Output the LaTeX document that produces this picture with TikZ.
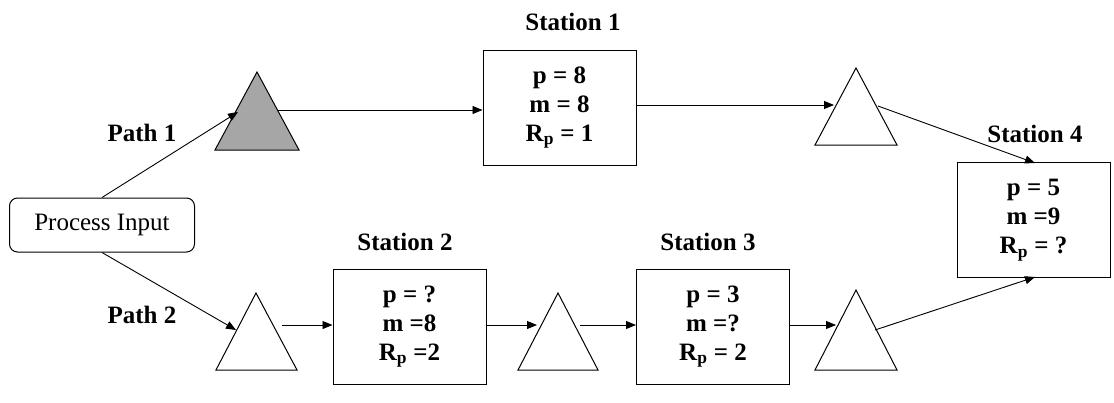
\documentclass[tikz,border=0pt]{standalone}
\usepackage{fontspec}
\setmainfont{Liberation Serif}
\usetikzlibrary{arrows.meta}
\begin{document}
\begin{tikzpicture}[x=1pt,y=-1pt,
  box/.style={draw,line width=1pt,minimum width=153pt,minimum height=115pt,align=center,font=\fontsize{25}{29}\selectfont\bfseries},
  lbl/.style={font=\fontsize{25}{29}\selectfont\bfseries},
  arr/.style={-{Triangle[length=10pt,width=8pt]},line width=0.9pt},
  tri/.style={draw,line width=1pt}]
\useasboundingbox (0,0) rectangle (1114,402);
\node[draw,rounded corners=8pt,line width=1pt,minimum width=185pt,minimum height=54pt,font=\fontsize{25}{29}\selectfont] (in) at (102,225) {Process Input};
\node[box] (s1) at (559.5,107.5) {p = 8\\m = 8\\R\textsubscript{p} = 1};
\node[box] (s2) at (409.5,326.5) {p = ?\\m =8\\R\textsubscript{p} =2};
\node[box] (s3) at (713,326.5) {p = 3\\m =?\\R\textsubscript{p} = 2};
\node[box] (s4) at (1033.5,220) {p = 5\\m =9\\R\textsubscript{p} = ?};
\node[lbl] (l1) at (573,22) {Station 1};
\node[lbl] (l2) at (405,242) {Station 2};
\node[lbl] (l3) at (708,242) {Station 3};
\node[lbl] (l4) at (1035,134) {Station 4};
\node[lbl] (p1) at (142,133) {Path 1};
\node[lbl] (p2) at (142,315) {Path 2};
% triangles
\draw[tri,fill=gray!70] (257,72) -- (299,150) -- (215,150) -- cycle;
\draw[tri] (856,68) -- (897,145) -- (815,145) -- cycle;
\draw[tri] (256,293) -- (297,370) -- (216,370) -- cycle;
\draw[tri] (558,293) -- (598,370) -- (518,370) -- cycle;
\draw[tri] (856,290) -- (897,370) -- (815,370) -- cycle;
\coordinate (t1l) at (238,112); \coordinate (t1r) at (278,110);
\coordinate (t5l) at (834,105); \coordinate (t5r) at (878,106);
\coordinate (t2l) at (236,330); \coordinate (t2r) at (282,325);
\coordinate (t3l) at (537,325); \coordinate (t3r) at (580,325);
\coordinate (t4l) at (836,325); \coordinate (t4r) at (875,330);
\coordinate (s4t) at (1035,163); \coordinate (s4b) at (1035,277);
\draw[arr] (in.north) -- (t1l);
\draw[arr] (in.south) -- (t2l);
\draw[arr] (t1r) -- (s1.west|-t1r);
\draw[arr] (s1.east|-t5l) -- (t5l);
\draw[arr] (t5r) -- (s4t);
\draw[arr] (t2r) -- (s2.west|-t2r);
\draw[arr] (s2.east|-t3l) -- (t3l);
\draw[arr] (t3r) -- (s3.west|-t3r);
\draw[arr] (s3.east|-t4l) -- (t4l);
\draw[arr] (t4r) -- (s4b);
\end{tikzpicture}
\end{document}
